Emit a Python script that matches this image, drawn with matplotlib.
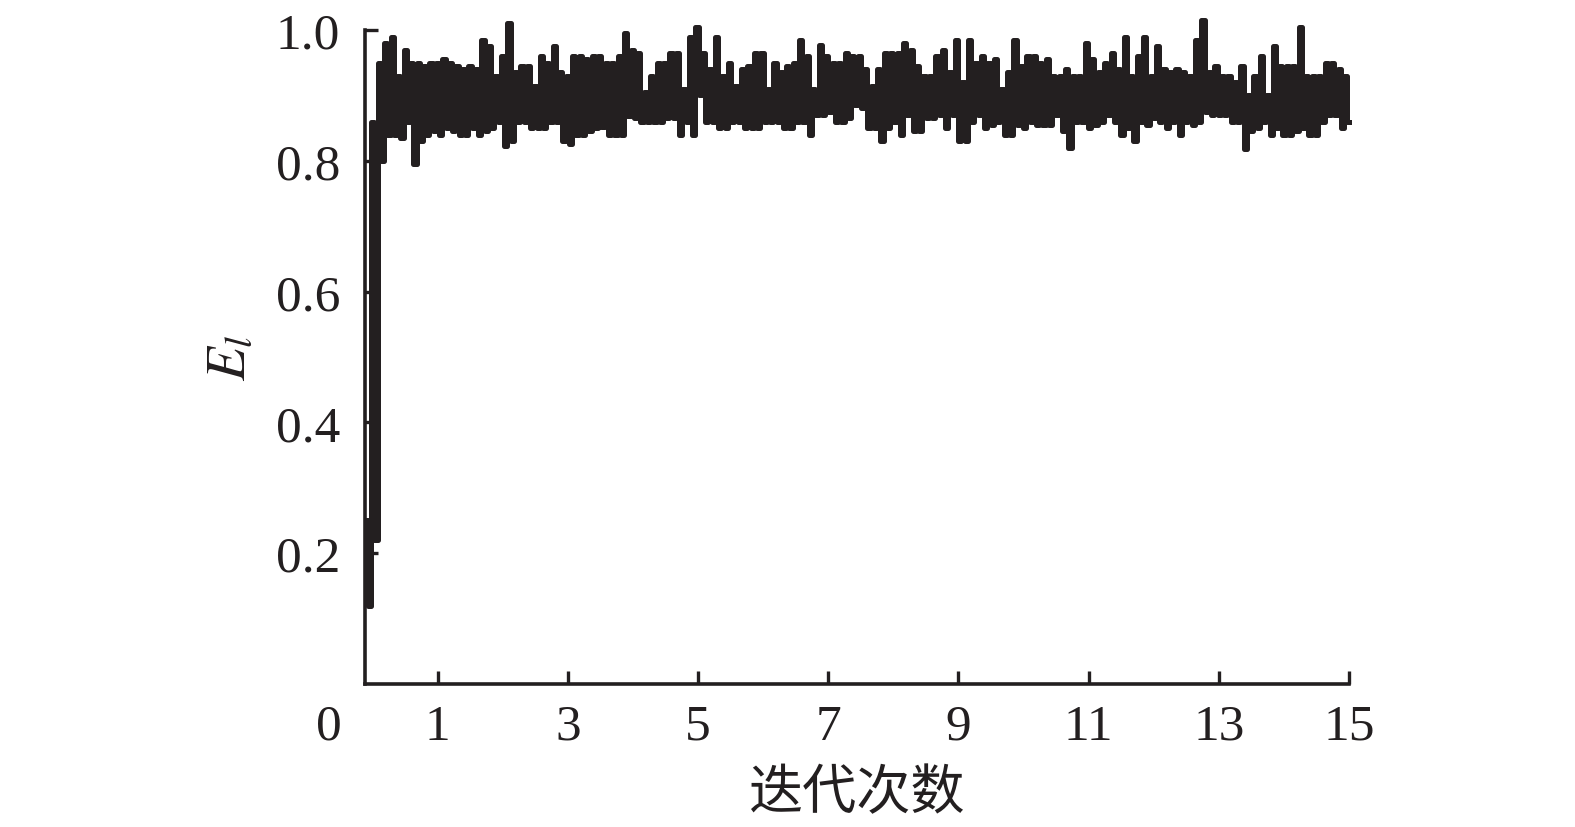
import numpy as np
from matplotlib import pyplot as plt

# upper / lower envelope of E_l per column (x from -0.1 to 15 step 0.1)
upper = [0.25, 0.86, 0.95, 0.98, 0.99, 0.93, 0.97, 0.95, 0.95, 0.945,
         0.95, 0.95, 0.955, 0.95, 0.945, 0.94, 0.945, 0.94, 0.985, 0.975,
         0.93, 0.96, 1.01, 0.935, 0.945, 0.945, 0.915, 0.96, 0.95, 0.975,
         0.935, 0.93, 0.96, 0.96, 0.955, 0.96, 0.96, 0.95, 0.95, 0.96,
         0.995, 0.97, 0.965, 0.905, 0.93, 0.95, 0.95, 0.965, 0.965, 0.91,
         0.99, 1.005, 0.965, 0.94, 0.99, 0.93, 0.95, 0.915, 0.94, 0.945,
         0.965, 0.965, 0.91, 0.95, 0.935, 0.945, 0.95, 0.985, 0.96, 0.91,
         0.977, 0.96, 0.95, 0.95, 0.965, 0.96, 0.96, 0.94, 0.915, 0.94,
         0.965, 0.965, 0.965, 0.98, 0.97, 0.945, 0.93, 0.93, 0.96, 0.97,
         0.935, 0.985, 0.92, 0.985, 0.95, 0.96, 0.95, 0.955, 0.91, 0.935,
         0.985, 0.945, 0.96, 0.96, 0.95, 0.955, 0.93, 0.93, 0.94, 0.93,
         0.93, 0.98, 0.955, 0.935, 0.95, 0.965, 0.94, 0.99, 0.93, 0.96,
         0.99, 0.93, 0.975, 0.94, 0.935, 0.94, 0.935, 0.93, 0.985, 1.015,
         0.935, 0.945, 0.93, 0.93, 0.92, 0.945, 0.90, 0.93, 0.96, 0.90,
         0.975, 0.945, 0.945, 0.945, 1.005, 0.93, 0.93, 0.93, 0.95, 0.95,
         0.94, 0.93]
lower = [0.12, 0.22, 0.80, 0.84, 0.84, 0.835, 0.86, 0.795, 0.83, 0.84,
         0.845, 0.84, 0.85, 0.845, 0.84, 0.84, 0.85, 0.84, 0.845, 0.85,
         0.86, 0.823, 0.83, 0.86, 0.86, 0.85, 0.85, 0.85, 0.86, 0.86,
         0.83, 0.825, 0.84, 0.84, 0.845, 0.85, 0.852, 0.84, 0.84, 0.84,
         0.869, 0.865, 0.86, 0.86, 0.86, 0.86, 0.865, 0.865, 0.84, 0.86,
         0.84, 0.90, 0.86, 0.86, 0.85, 0.85, 0.86, 0.86, 0.85, 0.85,
         0.85, 0.86, 0.86, 0.86, 0.85, 0.85, 0.86, 0.86, 0.84, 0.87,
         0.87, 0.875, 0.86, 0.86, 0.865, 0.885, 0.88, 0.85, 0.85, 0.83,
         0.85, 0.86, 0.84, 0.87, 0.845, 0.845, 0.865, 0.865, 0.87, 0.85,
         0.87, 0.83, 0.83, 0.86, 0.87, 0.85, 0.855, 0.86, 0.84, 0.84,
         0.855, 0.85, 0.86, 0.855, 0.855, 0.855, 0.87, 0.845, 0.82, 0.86,
         0.86, 0.85, 0.855, 0.86, 0.87, 0.86, 0.84, 0.85, 0.83, 0.86,
         0.855, 0.865, 0.86, 0.85, 0.86, 0.84, 0.86, 0.855, 0.86, 0.875,
         0.87, 0.87, 0.87, 0.86, 0.86, 0.818, 0.845, 0.85, 0.86, 0.84,
         0.85, 0.84, 0.84, 0.845, 0.85, 0.84, 0.84, 0.86, 0.87, 0.87,
         0.85, 0.86]

x_ticks = [1, 3, 5, 7, 9, 11, 13, 15]
y_ticks = [0.2, 0.4, 0.6, 0.8, 1.0]

plt.rcParams['font.family'] = ['Liberation Serif', 'DejaVu Serif']
plt.rcParams['mathtext.fontset'] = 'stix'

# oscillating series: high/low alternate within each column
values = np.empty(2 * len(upper))
values[0::2] = upper
values[1::2] = lower
iters = np.linspace(-0.1, 15.0, len(values))

fig = plt.figure(figsize=(15.75, 8.28), dpi=100)
ax = fig.add_axes([0.2317, 0.1727, 0.6248, 0.7899])

ax.plot(iters, values, color='#231f20', linewidth=3.6, drawstyle='steps-mid',
        clip_on=False, zorder=3)

ax.set_xlim(-0.12, 15)
ax.set_ylim(0, 1.0)
ax.set_xticks(x_ticks)
ax.set_yticks(y_ticks)
ax.set_yticklabels(['0.2', '0.4', '0.6', '0.8', '1.0'])

for s in ['top', 'right']:
    ax.spines[s].set_visible(False)
for s in ['left', 'bottom']:
    ax.spines[s].set_linewidth(2.6)
    ax.spines[s].set_color('#231f20')

ax.tick_params(axis='both', direction='in', length=9.5, width=2.4,
               color='#231f20', labelsize=37, labelcolor='#231f20')
ax.tick_params(axis='x', pad=14)
ax.tick_params(axis='y', pad=18)

ax.annotate('0', xy=(-0.68, 0), xycoords=('data', 'axes fraction'),
            xytext=(0, -14), textcoords='offset points', ha='center', va='top',
            fontsize=37, color='#231f20', annotation_clip=False)

ax.set_xlabel('迭代次数', fontsize=39, color='#231f20', labelpad=11,
              family=['Noto Sans CJK SC', 'DejaVu Sans'])
ax.set_ylabel('$E_l$', fontsize=40, color='#231f20', labelpad=14)

plt.savefig('out.png', dpi=100)
